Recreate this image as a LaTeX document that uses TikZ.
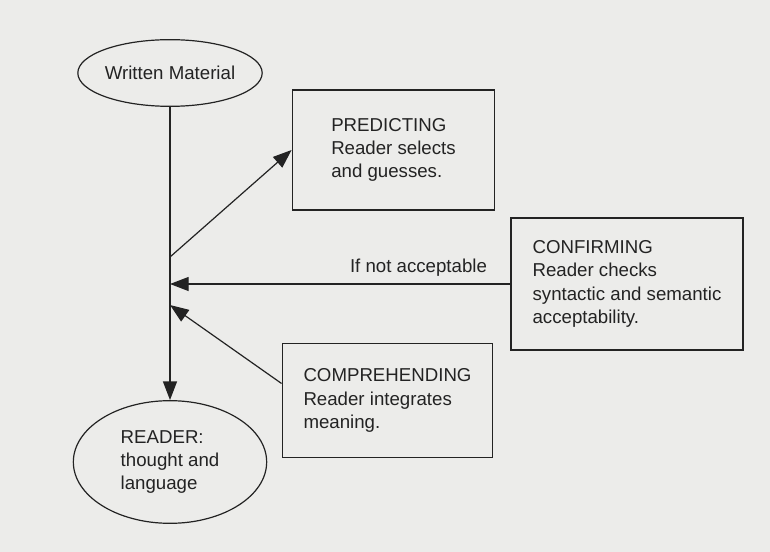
\documentclass[tikz,border=0pt]{standalone}
\usepackage{fontspec}
\setmainfont{Liberation Sans}
\usetikzlibrary{arrows.meta,calc,shapes.geometric}
\definecolor{paper}{RGB}{236,236,234}
\definecolor{ink}{RGB}{35,35,35}
\tikzstyle{stepbox} = [draw=ink, line width=0.9pt, align=left, inner sep=0pt]
\tikzstyle{oval} = [ellipse, draw=ink, line width=0.9pt, align=left, inner sep=0pt]
\tikzstyle{flow} = [draw=ink, line width=0.9pt, -{Triangle[length=14pt,width=10.5pt]}]
\tikzset{font={\fontsize{14}{17.5}\selectfont}, text=ink}

\begin{document}
\begin{tikzpicture}[x=0.75pt, y=-0.75pt]
  \fill[paper] (0,0) rectangle (770,552);
  \useasboundingbox (0,0) rectangle (770,552);

  % the two ovals on the main line
  \node[at={(170,73)}, oval, minimum width=135pt, minimum height=50pt] (written) {Written Material};
  \node[at={(170,462)}, oval, minimum width=145pt, minimum height=92pt] (reader) {READER:\\thought and\\language};

  % the three steps
  \node[at={(393.5,150)}, stepbox, minimum width=152pt, minimum height=90pt] (predict) {PREDICTING\\Reader selects\\and guesses.};
  \node[at={(627,284)}, stepbox, minimum width=174pt, minimum height=99pt] (confirm) {CONFIRMING\\Reader checks\\syntactic and semantic\\acceptability.};
  \node[at={(387.5,400.5)}, stepbox, minimum width=158pt, minimum height=86pt] (comprehend) {COMPREHENDING\\Reader integrates\\meaning.};

  \coordinate (branch) at (170,257);
  \coordinate (back) at (170,284);
  \coordinate (join) at (170,305);

  \draw[flow] (written) -- (reader);
  \draw[flow] (branch) -- (predict.west);
  \draw[flow] (confirm.west) -- node[pos=0.27, above=2pt] {If not acceptable} (back);
  \draw[flow] ($(comprehend.west)+(0,-17)$) -- (join);
\end{tikzpicture}
\end{document}
